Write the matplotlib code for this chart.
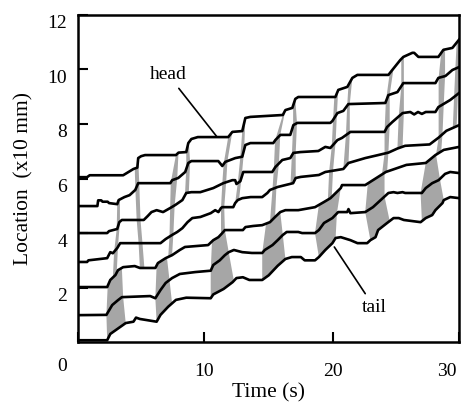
import numpy as np
import matplotlib
matplotlib.use('Agg')
import matplotlib.pyplot as plt
from matplotlib.transforms import ScaledTranslation

# marker trajectories, tail (bottom) to head (top): time (s), location (x10 mm)
tail_t = [0.2, 2.46, 2.7, 3.3, 3.9, 4.5, 4.7, 5.0, 6.3, 6.6, 7.2, 7.8, 8.6, 10.5, 10.7, 11.5, 12.2, 12.5, 13.0, 13.5, 14.5, 15.0,
          15.7, 16.3, 16.8, 17.5, 17.8, 18.6, 18.9, 19.4, 19.95, 20.2, 20.6, 21.35, 21.9, 22.65, 22.9, 23.3, 23.5, 24.2,
          24.7, 25.1, 25.5, 26.8, 27.2, 27.7, 27.95, 28.5, 28.6, 29.1, 29.8]
tail_y = [0.07, 0.07, 0.3, 0.5, 0.7, 0.75, 0.9, 0.85, 0.75, 1.0, 1.3, 1.55, 1.63, 1.61, 1.75, 1.95, 2.2, 2.35, 2.38, 2.28, 2.28, 2.45,
          2.8, 3.05, 3.12, 3.12, 3.0, 3.0, 3.12, 3.38, 3.63, 3.82, 3.85, 3.74, 3.63, 3.63, 3.74, 3.85, 4.11, 4.37,
          4.55, 4.55, 4.48, 4.40, 4.55, 4.66, 4.84, 5.10, 5.21, 5.32, 5.28]

m5_t = [0.2, 2.4, 2.85, 3.3, 3.6, 5.8, 6.2, 6.6, 7.0, 7.5, 8.1, 9.3, 10.5, 10.7, 11.2, 11.6, 11.9, 12.3, 12.95, 13.7, 14.5, 14.7,
        15.3, 15.7, 16.1, 16.4, 17.3, 17.6, 18.6, 18.9, 19.3, 19.95, 20.4, 21.1, 21.2, 21.35, 22.5, 23.1, 23.7, 24.3,
        24.7, 25.0, 25.4, 25.6, 26.9, 27.2, 27.7, 28.2, 28.7, 29.1, 29.8]
m5_y = [0.99, 1.0, 1.36, 1.54, 1.65, 1.69, 1.61, 1.91, 2.17, 2.35, 2.50, 2.57, 2.62, 2.83, 3.0, 3.19, 3.30, 3.38, 3.30, 3.27, 3.27, 3.38,
        3.56, 3.74, 3.93, 4.04, 4.04, 4.0, 4.0, 4.11, 4.37, 4.55, 4.77, 4.77, 4.88, 4.73, 4.77, 4.95, 5.21, 5.47,
        5.50, 5.47, 5.50, 5.47, 5.47, 5.65, 5.83, 5.94, 6.17, 6.24, 6.20]

m4_t = [0.2, 2.46, 2.7, 3.1, 3.3, 3.7, 4.6, 5.0, 6.2, 6.4, 7.0, 7.5, 8.1, 8.5, 10.3, 10.7, 11.1, 11.4, 11.6, 13.0, 13.2, 13.8,
        14.5, 15.1, 15.5, 15.9, 16.3, 17.3, 18.6, 19.3, 19.8, 20.6, 20.7, 22.5, 23.1, 24.1, 25.7, 27.2, 27.95, 28.6, 29.8]
m4_y = [2.02, 2.02, 2.28, 2.46, 2.64, 2.75, 2.79, 2.72, 2.72, 2.90, 3.08, 3.19, 3.38, 3.49, 3.56, 3.74, 3.85, 4.0, 4.11, 4.11, 4.22, 4.26,
        4.29, 4.40, 4.59, 4.77, 4.84, 4.84, 4.95, 5.14, 5.28, 5.65, 5.76, 5.76, 5.94, 6.24, 6.50, 6.57, 6.86, 7.05, 7.16]

m3_t = [0.2, 0.9, 1.0, 2.46, 2.7, 2.9, 3.24, 3.47, 6.6, 7.0, 7.5, 7.9, 8.3, 8.7, 9.07, 9.7, 10.1, 10.5, 10.85, 11.1, 11.3, 11.4,
        12.25, 12.4, 12.6, 12.95, 13.6, 14.5, 14.9, 15.1, 15.7, 16.9, 17.1, 17.5, 18.9, 19.4, 20.8, 21.2, 22.5, 23.5,
        24.3, 25.0, 25.6, 27.5, 28.2, 28.8, 29.8]
m3_y = [2.94, 2.94, 3.0, 3.08, 3.30, 3.26, 3.45, 3.63, 3.63, 3.78, 3.93, 4.04, 4.18, 4.40, 4.55, 4.59, 4.66, 4.73, 4.84, 4.77, 4.92, 4.95,
        4.95, 5.10, 5.21, 5.28, 5.32, 5.32, 5.47, 5.58, 5.69, 5.83, 6.02, 6.06, 6.13, 6.24, 6.35, 6.57, 6.75, 6.86,
        6.95, 7.1, 7.2, 7.25, 7.5, 7.75, 7.96]

m2_t = [0.2, 2.46, 2.6, 3.24, 3.4, 3.6, 5.3, 5.6, 5.9, 6.3, 6.8, 7.36, 7.75, 8.3, 8.6, 9.0, 9.69, 10.7, 11.48, 12.18, 12.4, 12.5,
        12.8, 13.03, 15.28, 15.52, 16.06, 16.68, 16.92, 17.46, 18.86, 19.4, 19.79, 20.34, 20.7, 21.35, 24.0, 24.2, 24.6,
        25.4, 26.0, 26.3, 26.6, 26.9, 27.2, 27.95, 28.18, 29.1, 29.8]
m2_y = [4.00, 4.00, 4.07, 4.15, 4.40, 4.48, 4.48, 4.62, 4.77, 4.84, 4.77, 4.92, 5.03, 5.21, 5.47, 5.50, 5.50, 5.65, 5.83, 5.94, 5.94, 5.80,
        5.90, 6.24, 6.24, 6.42, 6.68, 6.75, 6.94, 6.97, 7.01, 7.16, 7.12, 7.41, 7.49, 7.71, 7.71, 7.89, 8.07,
        8.40, 8.44, 8.35, 8.44, 8.37, 8.44, 8.44, 8.62, 8.88, 9.14]

m1_t = [0.2, 1.7, 1.76, 2.0, 2.1, 2.5, 2.6, 3.24, 3.35, 3.8, 4.2, 4.64, 4.87, 7.36, 7.51, 7.98, 8.52, 8.76, 9.0, 11.09, 11.4, 11.63,
        12.41, 12.95, 13.19, 13.58, 15.36, 15.52, 15.91, 16.68, 16.92, 17.23, 19.79, 19.95, 20.34, 20.8, 21.19, 24.06,
        24.30, 25.0, 25.46, 27.95, 28.18, 28.73, 29.27, 29.8]
m1_y = [4.99, 4.99, 5.2, 5.2, 5.15, 5.15, 5.1, 5.06, 5.21, 5.32, 5.39, 5.58, 5.83, 5.83, 5.94, 6.02, 6.24, 6.57, 6.64, 6.64, 6.46, 6.61,
        6.75, 6.80, 7.23, 7.30, 7.30, 7.41, 7.60, 7.60, 7.96, 8.04, 8.04, 8.11, 8.40, 8.48, 8.73, 8.77,
        9.06, 9.17, 9.50, 9.50, 9.69, 9.76, 9.98, 10.09]

head_t = [0.2, 0.9, 1.1, 3.7, 4.5, 4.8, 4.87, 5.1, 5.4, 7.8, 8.0, 8.6, 8.76, 9.0, 9.5, 11.86, 12.18, 12.95, 13.19, 13.58, 16.1,
          16.3, 16.84, 17.07, 17.3, 20.18, 20.41, 21.11, 21.5, 21.89, 24.3, 24.6, 25.23, 25.46, 26.16, 26.3, 26.63,
          28.18, 28.57, 29.27, 29.8]
head_y = [6.05, 6.05, 6.12, 6.12, 6.35, 6.4, 6.75, 6.82, 6.86, 6.86, 6.95, 6.97, 7.3, 7.45, 7.52, 7.52, 7.71, 7.74, 8.22, 8.26, 8.33,
          8.51, 8.59, 8.92, 8.99, 8.99, 9.25, 9.36, 9.69, 9.80, 9.80, 9.98, 10.35, 10.46, 10.61, 10.61, 10.46,
          10.46, 10.72, 10.79, 11.1]

# shaded bands: (lowest marker index, start times per marker, end times per marker)
bands = [
    (0, [2.46, 2.4, 2.5], [3.9, 3.7, 3.6]),
    (2, [2.9, 3.0, 3.2, 3.24], [3.2, 3.3, 3.45, 3.45]),
    (2, [5.0, 4.9, 4.75, 4.65, 4.6], [5.35, 5.2, 5.05, 4.95, 4.87]),
    (0, [6.3, 6.2, 6.3], [7.5, 7.3, 7.1]),
    (2, [7.2, 7.3, 7.35, 7.4, 7.8], [7.5, 7.6, 7.7, 7.9, 8.0]),
    (4, [8.5, 8.6, 8.6], [8.8, 8.9, 8.8]),
    (0, [10.5, 10.5, 10.6], [12.3, 11.9, 11.6]),
    (2, [11.3, 11.3, 11.4, 11.5, 11.86], [11.6, 11.55, 11.7, 11.8, 12.18]),
    (3, [12.4, 12.6, 12.8, 12.95], [12.7, 12.9, 13.1, 13.19]),
    (0, [14.5, 14.5, 14.8], [16.3, 16.1, 15.9]),
    (2, [15.1, 15.3, 15.4, 15.5, 16.1], [15.5, 15.6, 15.8, 15.9, 16.3]),
    (3, [16.7, 16.8, 16.9, 16.9], [17.1, 17.1, 17.2, 17.07]),
    (0, [18.9, 18.6, 18.9], [20.2, 20.3, 20.6]),
    (2, [19.6, 19.7, 19.9, 20.0, 20.1], [19.9, 20.0, 20.2, 20.3, 20.4]),
    (3, [20.8, 21.0, 21.1, 21.2], [21.2, 21.3, 21.3, 21.5]),
    (0, [22.9, 22.5, 22.7], [24.4, 24.0, 24.0]),
    (2, [23.8, 24.0, 24.0, 24.1, 24.4], [24.2, 24.3, 24.4, 24.4, 24.7]),
    (3, [25.0, 25.1, 25.3, 25.3], [25.4, 25.5, 25.5, 25.5]),
    (0, [26.9, 26.8, 27.2], [28.6, 28.3, 28.0]),
    (2, [28.0, 28.2, 28.2, 28.2, 28.4], [28.4, 28.5, 28.6, 28.7, 28.7]),
    (3, [29.3, 29.4, 29.5, 29.6], [29.6, 29.7, 29.8, 29.8]),
]

y_ticks = [2, 4, 6, 8, 10, 12]
x_ticks = [0.2, 10, 20, 29.8]
x_tick_labels = ['0', '10', '20', '30']


def edge(t, y, a, b):
    """點列: 沿著軌跡從 a 到 b"""
    t = np.asarray(t)
    y = np.asarray(y)
    inner = t[(t > min(a, b)) & (t < max(a, b))]
    ts = np.concatenate([[a], inner if a < b else inner[::-1], [b]])
    return list(zip(ts, np.interp(ts, t, y)))


plt.rcParams['font.family'] = ['Liberation Serif', 'DejaVu Serif']
plt.rcParams['font.size'] = 14

fig = plt.figure(figsize=(4.62, 4.03), dpi=100)
ax = fig.add_axes([0.169, 0.151, 0.825, 0.812])

markers = [(tail_t, tail_y), (m5_t, m5_y), (m4_t, m4_y), (m3_t, m3_y),
           (m2_t, m2_y), (m1_t, m1_y), (head_t, head_y)]

# 灰色區域
for lo, starts, ends in bands:
    for k in range(len(starts) - 1):
        lt, ly = markers[lo + k]
        ut, uy = markers[lo + k + 1]
        pts = edge(lt, ly, starts[k], ends[k]) + edge(ut, uy, ends[k + 1], starts[k + 1])
        ax.fill([p[0] for p in pts], [p[1] for p in pts], color='#a6a6a6', lw=0, zorder=1)

for t, y in markers:
    ax.plot(t, y, color='black', lw=1.9, zorder=3, solid_joinstyle='round')

ax.annotate('head', xy=(11.0, 7.52), xytext=(7.2, 9.8), ha='center', va='center',
            arrowprops=dict(arrowstyle='-', color='black', lw=1.2, shrinkA=2, shrinkB=0))
ax.annotate('tail', xy=(20.1, 3.49), xytext=(23.2, 1.28), ha='center', va='center',
            arrowprops=dict(arrowstyle='-', color='black', lw=1.2, shrinkA=2, shrinkB=0))

ax.set_xlim(0.2, 29.8)
ax.set_ylim(0, 12)
ax.set_yticks(y_ticks)
ax.set_xticks(x_ticks)
ax.set_xticklabels(x_tick_labels)
ax.tick_params(direction='in', length=7, width=1.5, labelsize=14)
ax.tick_params(axis='x', pad=15)
ax.tick_params(axis='y', pad=8)
for s in ax.spines.values():
    s.set_linewidth(1.8)

off = fig.dpi_scale_trans
for lab in ax.get_yticklabels():
    lab.set_transform(lab.get_transform() + ScaledTranslation(0, -5 / 72, off))
xl = ax.get_xticklabels()
xl[0].set_transform(xl[0].get_transform() + ScaledTranslation(-16 / 100, 5 / 100, off))
xl[-1].set_transform(xl[-1].get_transform() + ScaledTranslation(-12 / 100, 0, off))

ax.set_xlabel('Time (s)', fontsize=15.5, labelpad=2)
ax.set_ylabel('Location  (x10 mm)', fontsize=15.5, labelpad=10)

fig.savefig('out.png', dpi=100)
